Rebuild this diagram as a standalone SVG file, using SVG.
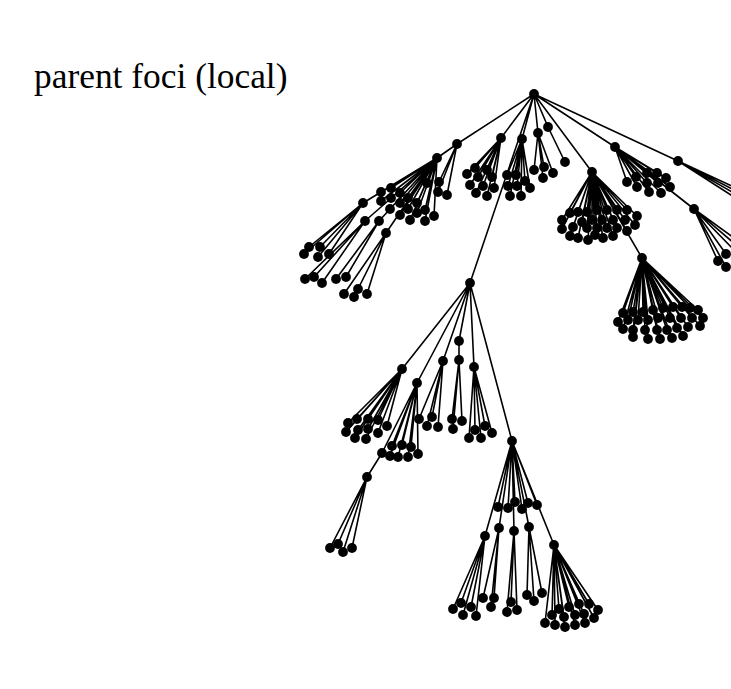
<svg xmlns="http://www.w3.org/2000/svg" width="731" height="689" viewBox="0 0 731 689">
<style>
.bg{fill:#fff}
.title{font-family:"Liberation Serif","Times New Roman",serif;font-size:35.4px;fill:#000}
#links path{fill:none;stroke:#000;stroke-width:1.6}
.nodes circle{fill:#000}
</style>
<rect class="bg" width="731" height="689"/>
<text class="title" x="34" y="88">parent foci (local)</text>
<g id="links">
<path d="M534 94L457 144M534 94L501 138M534 94L522 139M534 94L538 133M534 94L548 127M534 94L592 172M534 94L615 147M534 94L678 161M534 94L470 283"/>
<path d="M457 144L437 158M457 144L447 195M457 144L438 192M457 144L439 182"/>
<path d="M437 158L381 192M437 158L391 188M437 158L381 201M437 158L391 198M437 158L400 193M437 158L408 198M437 158L400 203M437 158L417 203M437 158L427 183M437 158L390 209M437 158L408 209M437 158L400 215M437 158L417 213M437 158L425 210M437 158L434 216M437 158L410 220M437 158L425 221M437 158L363 203M437 158L365 221M437 158L379 221M437 158L386 233"/>
<path d="M363 203L309 247M363 203L320 247M363 203L304 254M363 203L318 257M363 203L329 254M365 221L305 279M365 221L314 277M365 221L322 283M379 221L336 279M379 221L346 277M386 233L344 294M386 233L354 297M386 233L367 294M386 233L358 289"/>
<path d="M501 138L467 174M501 138L475 168M501 138L470 185M501 138L478 177M501 138L487 170M501 138L483 186M501 138L492 177M501 138L476 193M501 138L487 196M501 138L494 188"/>
<path d="M522 139L507 175M522 139L516 175M522 139L525 181M522 139L508 186M522 139L517 186M522 139L530 188M522 139L510 196M522 139L521 196"/>
<path d="M538 133L534 170M538 133L544 167M538 133L553 173M538 133L543 178M548 127L565 162"/>
<path d="M592 172L570 213M592 172L578 212M592 172L587 212M592 172L597 210M592 172L607 210M592 172L617 210M592 172L627 210M592 172L637 216M592 172L562 220M592 172L582 222M592 172L592 220M592 172L602 220M592 172L613 220M592 172L625 220M592 172L635 225M592 172L562 229M592 172L573 227M592 172L587 228M592 172L597 228M592 172L607 228M592 172L617 228M592 172L627 231M592 172L570 236M592 172L578 238M592 172L588 240M592 172L595 235M592 172L603 238M592 172L613 236M592 172L642 258"/>
<path d="M642 258L623 313M642 258L633 312M642 258L643 312M642 258L653 310M642 258L663 308M642 258L673 307M642 258L682 307M642 258L690 308M642 258L698 310M642 258L618 322M642 258L628 320M642 258L638 320M642 258L648 320M642 258L658 318M642 258L670 318M642 258L681 318M642 258L692 318M642 258L703 318M642 258L623 329M642 258L633 330M642 258L645 330M642 258L657 330M642 258L667 330M642 258L677 328M642 258L688 327M642 258L700 326M642 258L633 337M642 258L648 339M642 258L660 339M642 258L672 338M642 258L683 336"/>
<path d="M615 147L627 182M615 147L637 187M615 147L636 177M615 147L647 173M615 147L657 173M615 147L666 178M615 147L647 183M615 147L658 183M615 147L670 187M615 147L649 192M615 147L661 193M615 147L694 209"/>
<path d="M694 209L718 261M694 209L726 254M694 209L726 267M694 209L740 256M694 209L742 250M694 209L745 246"/>
<path d="M678 161L745 192M678 161L746 196M678 161L746 200M678 161L745 204"/>
<path d="M470 283L402 369M470 283L417 383M470 283L443 361M470 283L459 341M459 341L459 360M470 283L474 367M470 283L512 441"/>
<path d="M402 369L348 423M402 369L357 419M402 369L368 419M402 369L378 420M402 369L387 426M402 369L346 432M402 369L358 430M402 369L368 429M402 369L378 433M402 369L355 438M402 369L366 439"/>
<path d="M417 383L382 453M417 383L392 446M417 383L402 445M417 383L411 447M417 383L418 454M417 383L390 456M417 383L398 457M417 383L408 457M382 453L367 477"/>
<path d="M367 477L330 548M367 477L338 544M367 477L343 552M367 477L352 548"/>
<path d="M443 361L419 419M443 361L427 426M443 361L432 417M443 361L438 427M459 360L452 419M459 360L453 429M459 360L462 421"/>
<path d="M474 367L469 438M474 367L475 430M474 367L481 438M474 367L485 426M474 367L492 433"/>
<path d="M512 441L498 507M512 441L508 508M512 441L515 502M512 441L522 509M512 441L528 503M512 441L537 505M512 441L485 536M512 441L499 528M512 441L514 531M512 441L529 527M512 441L554 545"/>
<path d="M485 536L453 609M485 536L461 603M485 536L463 615M485 536L471 607M485 536L476 616M499 528L483 598M499 528L491 607M499 528L494 598M514 531L507 612M514 531L511 602M514 531L517 610M529 527L527 595M529 527L534 601M529 527L542 593"/>
<path d="M554 545L545 623M554 545L552 615M554 545L555 625M554 545L559 609M554 545L564 617M554 545L565 627M554 545L569 607M554 545L575 615M554 545L575 625M554 545L579 604M554 545L584 614M554 545L585 623M554 545L589 604M554 545L594 618M554 545L598 610"/>
</g>
<g id="nodes" class="nodes">
<g id="root"><circle cx="534" cy="94" r="4.9"/></g>
<g id="hubs">
<circle cx="457" cy="144" r="4.9"/><circle cx="437" cy="158" r="4.9"/><circle cx="501" cy="138" r="4.9"/><circle cx="522" cy="139" r="4.9"/><circle cx="538" cy="133" r="4.9"/><circle cx="548" cy="127" r="4.9"/><circle cx="592" cy="172" r="4.9"/><circle cx="615" cy="147" r="4.9"/><circle cx="678" cy="161" r="4.9"/><circle cx="694" cy="209" r="4.9"/><circle cx="642" cy="258" r="4.9"/><circle cx="470" cy="283" r="4.9"/>
<circle cx="363" cy="203" r="4.9"/><circle cx="365" cy="221" r="4.9"/><circle cx="379" cy="221" r="4.9"/><circle cx="386" cy="233" r="4.9"/>
<circle cx="402" cy="369" r="4.9"/><circle cx="417" cy="383" r="4.9"/><circle cx="443" cy="361" r="4.9"/><circle cx="459" cy="341" r="4.9"/><circle cx="459" cy="360" r="4.9"/><circle cx="474" cy="367" r="4.9"/><circle cx="512" cy="441" r="4.9"/><circle cx="367" cy="477" r="4.9"/>
<circle cx="485" cy="536" r="4.9"/><circle cx="499" cy="528" r="4.9"/><circle cx="514" cy="531" r="4.9"/><circle cx="529" cy="527" r="4.9"/><circle cx="554" cy="545" r="4.9"/>
</g>
<g id="leaves-a">
<circle cx="447" cy="195" r="4.9"/><circle cx="438" cy="192" r="4.9"/><circle cx="439" cy="182" r="4.9"/>
<circle cx="381" cy="192" r="4.9"/><circle cx="391" cy="188" r="4.9"/><circle cx="381" cy="201" r="4.9"/><circle cx="391" cy="198" r="4.9"/><circle cx="400" cy="193" r="4.9"/><circle cx="408" cy="198" r="4.9"/><circle cx="400" cy="203" r="4.9"/><circle cx="417" cy="203" r="4.9"/><circle cx="427" cy="183" r="4.9"/><circle cx="390" cy="209" r="4.9"/><circle cx="408" cy="209" r="4.9"/><circle cx="400" cy="215" r="4.9"/><circle cx="417" cy="213" r="4.9"/><circle cx="425" cy="210" r="4.9"/><circle cx="434" cy="216" r="4.9"/><circle cx="410" cy="220" r="4.9"/><circle cx="425" cy="221" r="4.9"/>
<circle cx="309" cy="247" r="4.9"/><circle cx="320" cy="247" r="4.9"/><circle cx="304" cy="254" r="4.9"/><circle cx="318" cy="257" r="4.9"/><circle cx="329" cy="254" r="4.9"/><circle cx="305" cy="279" r="4.9"/><circle cx="314" cy="277" r="4.9"/><circle cx="322" cy="283" r="4.9"/><circle cx="336" cy="279" r="4.9"/><circle cx="346" cy="277" r="4.9"/><circle cx="344" cy="294" r="4.9"/><circle cx="354" cy="297" r="4.9"/><circle cx="367" cy="294" r="4.9"/><circle cx="358" cy="289" r="4.9"/>
</g>
<g id="leaves-top">
<circle cx="467" cy="174" r="4.9"/><circle cx="475" cy="168" r="4.9"/><circle cx="470" cy="185" r="4.9"/><circle cx="478" cy="177" r="4.9"/><circle cx="487" cy="170" r="4.9"/><circle cx="483" cy="186" r="4.9"/><circle cx="492" cy="177" r="4.9"/><circle cx="476" cy="193" r="4.9"/><circle cx="487" cy="196" r="4.9"/><circle cx="494" cy="188" r="4.9"/>
<circle cx="507" cy="175" r="4.9"/><circle cx="516" cy="175" r="4.9"/><circle cx="525" cy="181" r="4.9"/><circle cx="508" cy="186" r="4.9"/><circle cx="517" cy="186" r="4.9"/><circle cx="530" cy="188" r="4.9"/><circle cx="510" cy="196" r="4.9"/><circle cx="521" cy="196" r="4.9"/>
<circle cx="534" cy="170" r="4.9"/><circle cx="544" cy="167" r="4.9"/><circle cx="553" cy="173" r="4.9"/><circle cx="543" cy="178" r="4.9"/><circle cx="565" cy="162" r="4.9"/>
</g>
<g id="leaves-c">
<circle cx="570" cy="213" r="4.9"/><circle cx="578" cy="212" r="4.9"/><circle cx="587" cy="212" r="4.9"/><circle cx="597" cy="210" r="4.9"/><circle cx="607" cy="210" r="4.9"/><circle cx="617" cy="210" r="4.9"/><circle cx="627" cy="210" r="4.9"/><circle cx="637" cy="216" r="4.9"/><circle cx="562" cy="220" r="4.9"/><circle cx="582" cy="222" r="4.9"/><circle cx="592" cy="220" r="4.9"/><circle cx="602" cy="220" r="4.9"/><circle cx="613" cy="220" r="4.9"/><circle cx="625" cy="220" r="4.9"/><circle cx="635" cy="225" r="4.9"/><circle cx="562" cy="229" r="4.9"/><circle cx="573" cy="227" r="4.9"/><circle cx="587" cy="228" r="4.9"/><circle cx="597" cy="228" r="4.9"/><circle cx="607" cy="228" r="4.9"/><circle cx="617" cy="228" r="4.9"/><circle cx="627" cy="231" r="4.9"/><circle cx="570" cy="236" r="4.9"/><circle cx="578" cy="238" r="4.9"/><circle cx="588" cy="240" r="4.9"/><circle cx="595" cy="235" r="4.9"/><circle cx="603" cy="238" r="4.9"/><circle cx="613" cy="236" r="4.9"/>
</g>
<g id="leaves-f">
<circle cx="623" cy="313" r="4.9"/><circle cx="633" cy="312" r="4.9"/><circle cx="643" cy="312" r="4.9"/><circle cx="653" cy="310" r="4.9"/><circle cx="663" cy="308" r="4.9"/><circle cx="673" cy="307" r="4.9"/><circle cx="682" cy="307" r="4.9"/><circle cx="690" cy="308" r="4.9"/><circle cx="698" cy="310" r="4.9"/><circle cx="618" cy="322" r="4.9"/><circle cx="628" cy="320" r="4.9"/><circle cx="638" cy="320" r="4.9"/><circle cx="648" cy="320" r="4.9"/><circle cx="658" cy="318" r="4.9"/><circle cx="670" cy="318" r="4.9"/><circle cx="681" cy="318" r="4.9"/><circle cx="692" cy="318" r="4.9"/><circle cx="703" cy="318" r="4.9"/><circle cx="623" cy="329" r="4.9"/><circle cx="633" cy="330" r="4.9"/><circle cx="645" cy="330" r="4.9"/><circle cx="657" cy="330" r="4.9"/><circle cx="667" cy="330" r="4.9"/><circle cx="677" cy="328" r="4.9"/><circle cx="688" cy="327" r="4.9"/><circle cx="700" cy="326" r="4.9"/><circle cx="633" cy="337" r="4.9"/><circle cx="648" cy="339" r="4.9"/><circle cx="660" cy="339" r="4.9"/><circle cx="672" cy="338" r="4.9"/><circle cx="683" cy="336" r="4.9"/>
</g>
<g id="leaves-d">
<circle cx="627" cy="182" r="4.9"/><circle cx="637" cy="187" r="4.9"/><circle cx="636" cy="177" r="4.9"/><circle cx="647" cy="173" r="4.9"/><circle cx="657" cy="173" r="4.9"/><circle cx="666" cy="178" r="4.9"/><circle cx="647" cy="183" r="4.9"/><circle cx="658" cy="183" r="4.9"/><circle cx="670" cy="187" r="4.9"/><circle cx="649" cy="192" r="4.9"/><circle cx="661" cy="193" r="4.9"/>
<circle cx="718" cy="261" r="4.9"/><circle cx="726" cy="254" r="4.9"/><circle cx="726" cy="267" r="4.9"/>
</g>
<g id="leaves-m">
<circle cx="348" cy="423" r="4.9"/><circle cx="357" cy="419" r="4.9"/><circle cx="368" cy="419" r="4.9"/><circle cx="378" cy="420" r="4.9"/><circle cx="387" cy="426" r="4.9"/><circle cx="346" cy="432" r="4.9"/><circle cx="358" cy="430" r="4.9"/><circle cx="368" cy="429" r="4.9"/><circle cx="378" cy="433" r="4.9"/><circle cx="355" cy="438" r="4.9"/><circle cx="366" cy="439" r="4.9"/>
<circle cx="382" cy="453" r="4.9"/><circle cx="392" cy="446" r="4.9"/><circle cx="402" cy="445" r="4.9"/><circle cx="411" cy="447" r="4.9"/><circle cx="418" cy="454" r="4.9"/><circle cx="390" cy="456" r="4.9"/><circle cx="398" cy="457" r="4.9"/><circle cx="408" cy="457" r="4.9"/>
<circle cx="330" cy="548" r="4.9"/><circle cx="338" cy="544" r="4.9"/><circle cx="343" cy="552" r="4.9"/><circle cx="352" cy="548" r="4.9"/>
<circle cx="419" cy="419" r="4.9"/><circle cx="427" cy="426" r="4.9"/><circle cx="432" cy="417" r="4.9"/><circle cx="438" cy="427" r="4.9"/><circle cx="452" cy="419" r="4.9"/><circle cx="453" cy="429" r="4.9"/><circle cx="462" cy="421" r="4.9"/>
<circle cx="469" cy="438" r="4.9"/><circle cx="475" cy="430" r="4.9"/><circle cx="481" cy="438" r="4.9"/><circle cx="485" cy="426" r="4.9"/><circle cx="492" cy="433" r="4.9"/>
</g>
<g id="leaves-q">
<circle cx="498" cy="507" r="4.9"/><circle cx="508" cy="508" r="4.9"/><circle cx="515" cy="502" r="4.9"/><circle cx="522" cy="509" r="4.9"/><circle cx="528" cy="503" r="4.9"/><circle cx="537" cy="505" r="4.9"/>
<circle cx="453" cy="609" r="4.9"/><circle cx="461" cy="603" r="4.9"/><circle cx="463" cy="615" r="4.9"/><circle cx="471" cy="607" r="4.9"/><circle cx="476" cy="616" r="4.9"/>
<circle cx="483" cy="598" r="4.9"/><circle cx="491" cy="607" r="4.9"/><circle cx="494" cy="598" r="4.9"/>
<circle cx="507" cy="612" r="4.9"/><circle cx="511" cy="602" r="4.9"/><circle cx="517" cy="610" r="4.9"/>
<circle cx="527" cy="595" r="4.9"/><circle cx="534" cy="601" r="4.9"/><circle cx="542" cy="593" r="4.9"/>
<circle cx="545" cy="623" r="4.9"/><circle cx="552" cy="615" r="4.9"/><circle cx="555" cy="625" r="4.9"/><circle cx="559" cy="609" r="4.9"/><circle cx="564" cy="617" r="4.9"/><circle cx="565" cy="627" r="4.9"/><circle cx="569" cy="607" r="4.9"/><circle cx="575" cy="615" r="4.9"/><circle cx="575" cy="625" r="4.9"/><circle cx="579" cy="604" r="4.9"/><circle cx="584" cy="614" r="4.9"/><circle cx="585" cy="623" r="4.9"/><circle cx="589" cy="604" r="4.9"/><circle cx="594" cy="618" r="4.9"/><circle cx="598" cy="610" r="4.9"/>
</g>
</g>
</svg>
